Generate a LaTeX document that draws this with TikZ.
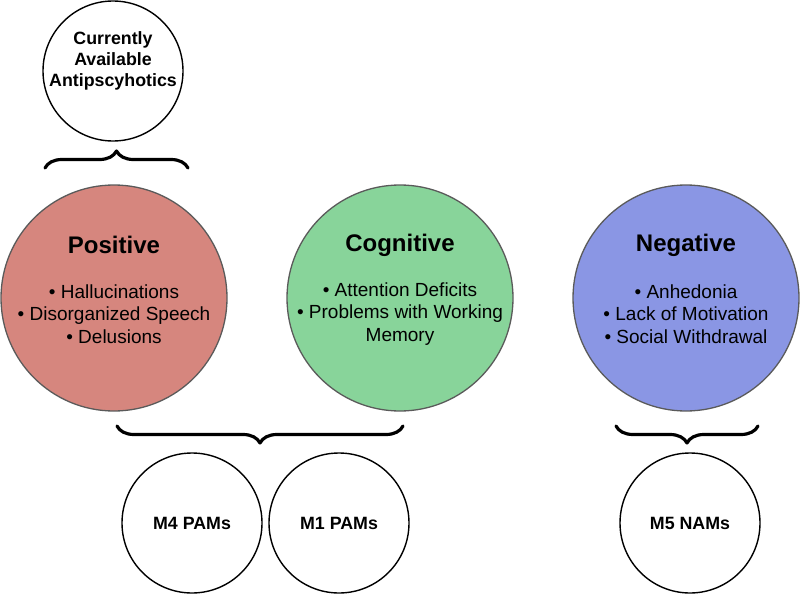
\documentclass[tikz,border=0pt]{standalone}
\usepackage{fontspec}
\setmainfont{Liberation Sans}
\usetikzlibrary{decorations.pathreplacing}
\definecolor{poscol}{RGB}{214,134,126}
\definecolor{cogcol}{RGB}{136,212,154}
\definecolor{negcol}{RGB}{138,150,228}
\definecolor{rimcol}{RGB}{90,90,90}
\tikzset{
	bigdisc/.style={circle,draw=rimcol,line width=1.3pt,minimum size=226pt,inner sep=0pt},
	smalldisc/.style={circle,draw=black,line width=1.4pt,fill=white,minimum size=140pt,inner sep=0pt},
	heading/.style={font=\fontsize{24}{26}\selectfont\bfseries},
	bullets/.style={align=center,font=\fontsize{19}{22.5}\selectfont},
	drug/.style={font=\fontsize{17.8}{21}\selectfont\bfseries,align=center},
	curly/.style={decorate,decoration={brace,amplitude=17pt},line width=3.2pt}
}
\begin{document}
\begin{tikzpicture}[x=1pt,y=-1pt,line join=round,line cap=round]
			\useasboundingbox (0,0) rectangle (800,594);
			% symptom domains
			\node[bigdisc,fill=poscol] (pos) at (114,298) {};
			\node[bigdisc,fill=cogcol] (cog) at (400,298) {};
			\node[bigdisc,fill=negcol] (neg) at (686,298) {};
			\node[heading] (posT) at ([yshift=53pt]pos.center) {Positive};
			\node[heading] (cogT) at ([yshift=53pt]cog.center) {Cognitive};
			\node[heading] (negT) at ([yshift=53pt]neg.center) {Negative};
			\node[bullets] (posL) at ([yshift=-16pt]pos.center) {• Hallucinations\\• Disorganized Speech\\• Delusions};
			\node[bullets] (cogL) at ([yshift=-16pt]cog.center) {• Attention Deficits\\• Problems with Working\\Memory};
			\node[bullets] (negL) at ([yshift=-16pt]neg.center) {• Anhedonia\\• Lack of Motivation\\• Social Withdrawal};
			
			% treatments
			\node[smalldisc] (cur) at (113,71) {};
			\node[drug] at ([yshift=10pt]cur.center) {Currently\\Available\\Antipscyhotics};
			\node[smalldisc,drug] (m4) at (192,523) {M4 PAMs};
			\node[smalldisc,drug] (m1) at (339,523) {M1 PAMs};
			\node[smalldisc,drug] (m5) at (690,523) {M5 NAMs};
			
			% braces
			\coordinate (b1) at (45,168);
			\coordinate (b2) at (188,168);
			\coordinate (b3) at (403,426);
			\coordinate (b4) at (117,426);
			\coordinate (b5) at (758,426);
			\coordinate (b6) at (616,426);
			\draw[curly] (b1)--(b2);
			\draw[curly] (b3)--(b4);
			\draw[curly] (b5)--(b6);
\end{tikzpicture}
\end{document}
